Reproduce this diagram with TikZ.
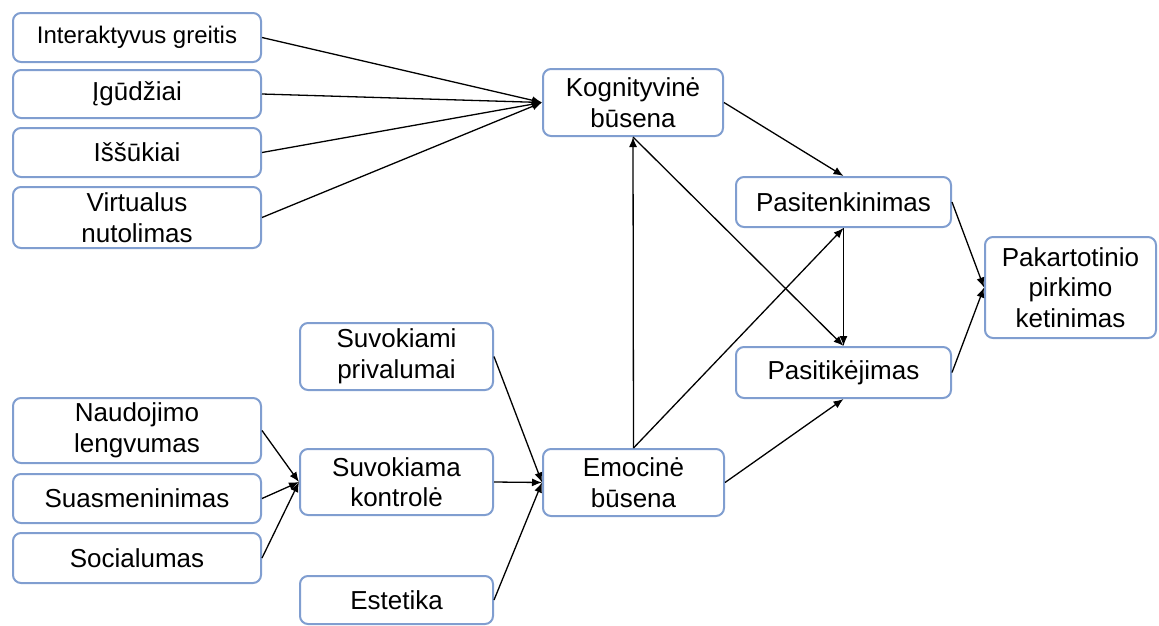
\documentclass[tikz,border=0pt]{standalone}
\usepackage{fontspec}
\setmainfont{Liberation Sans}
\usetikzlibrary{arrows.meta}
\definecolor{boxline}{RGB}{128,158,208}
\begin{document}
\begin{tikzpicture}[x=1pt,y=-1pt,
  box/.style={draw=boxline, line width=2pt, fill=white, rounded corners=8pt,
    inner sep=0pt, align=center, font=\fontsize{26}{30.5}\selectfont},
  link/.style={line width=1.3pt, -{Latex[length=10pt,width=8pt]}}]
\useasboundingbox (0,0) rectangle (1159,625);

% cognitive antecedents
\node[box, minimum width=248pt, minimum height=49pt, font=\fontsize{24}{28}\selectfont] (ig) at (137,37.5) {Interaktyvus greitis};
\node[box, minimum width=248pt, minimum height=48pt] (igu) at (137,94) {Įgūdžiai};
\node[box, minimum width=248pt, minimum height=49pt] (iss) at (137,152.5) {Iššūkiai};
\node[box, minimum width=248pt, minimum height=61pt] (vir) at (137,217.5) {Virtualus\\nutolimas};

% control antecedents
\node[box, minimum width=248pt, minimum height=65pt] (nau) at (137,430.5) {Naudojimo\\lengvumas};
\node[box, minimum width=248pt, minimum height=49pt] (sua) at (137,498.5) {Suasmeninimas};
\node[box, minimum width=248pt, minimum height=50pt] (soc) at (137,558) {Socialumas};

% emotional antecedents
\node[box, minimum width=193pt, minimum height=67pt] (suvp) at (396.5,356.5) {Suvokiami\\privalumai};
\node[box, minimum width=193pt, minimum height=66pt] (suvk) at (396.5,482) {Suvokiama\\kontrolė};
\node[box, minimum width=193pt, minimum height=48pt] (est) at (396.5,600) {Estetika};

% states
\node[box, minimum width=180pt, minimum height=67pt] (kog) at (633,102.5) {Kognityvinė\\būsena};
\node[box, minimum width=181pt, minimum height=67pt] (emo) at (633.5,482.5) {Emocinė\\būsena};

% outcomes
\node[box, minimum width=215pt, minimum height=50pt] (pat) at (843.5,202) {Pasitenkinimas};
\node[box, minimum width=215pt, minimum height=51pt] (pti) at (843.5,372.5) {Pasitikėjimas};
\node[box, minimum width=171pt, minimum height=101pt] (pak) at (1070.5,287.5) {Pakartotinio\\pirkimo\\ketinimas};

% connectors
\foreach \s in {ig,igu,iss,vir} \draw[link] (\s.east) -- (kog.west);
\foreach \s in {nau,sua,soc} \draw[link] (\s.east) -- (suvk.west);
\foreach \s in {suvp,suvk,est} \draw[link] (\s.east) -- (emo.west);
\draw[link] (kog.east) -- (pat.north);
\draw[link] (kog.south) -- (pti.north);
\draw[link] (emo.north) -- (kog.south);
\draw[link] (emo.north) -- (pat.south);
\draw[link] (emo.east) -- (pti.south);
\draw[link] (pat.south) -- (pti.north);
\draw[link] (pat.east) -- (pak.west);
\draw[link] (pti.east) -- (pak.west);
\end{tikzpicture}
\end{document}
